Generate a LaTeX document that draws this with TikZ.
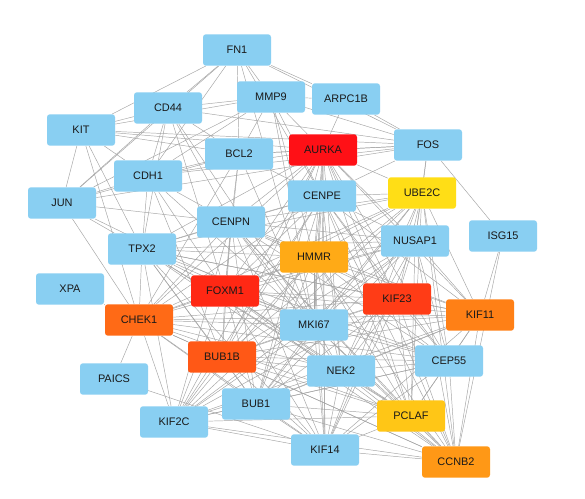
\documentclass[tikz,border=0pt]{standalone}
\usepackage{fontspec}
\setmainfont{Liberation Sans}
\usetikzlibrary{backgrounds}
\definecolor{nblue}{RGB}{137,207,242}
\definecolor{cAURKA}{RGB}{255,16,22}
\definecolor{cFOXM1}{RGB}{255,40,20}
\definecolor{cKIF23}{RGB}{255,60,22}
\definecolor{cBUB1B}{RGB}{255,88,22}
\definecolor{cCHEK1}{RGB}{255,106,22}
\definecolor{cKIF11}{RGB}{255,128,22}
\definecolor{cCCNB2}{RGB}{255,152,22}
\definecolor{cHMMR}{RGB}{255,170,22}
\definecolor{cPCLAF}{RGB}{255,198,22}
\definecolor{cUBE2C}{RGB}{255,222,22}
\definecolor{edgec}{RGB}{165,165,165}
\begin{document}
\begin{tikzpicture}[x=0.75pt,y=-0.75pt,
  gene/.style={fill=nblue,rounded corners=2.2pt,minimum width=51pt,minimum height=23.6pt,
    inner sep=0pt,font=\fontsize{8.2}{9.6}\selectfont,text=black!90},
  edge/.style={draw=edgec,line width=0.35pt}]
\useasboundingbox (0,0) rectangle (585,499);
\node[gene] (FN1) at (237,50) {FN1};
\node[gene] (MMP9) at (271,97) {MMP9};
\node[gene] (ARPC1B) at (346,99) {ARPC1B};
\node[gene] (CD44) at (168,108) {CD44};
\node[gene] (KIT) at (81,130) {KIT};
\node[gene] (BCL2) at (239,154) {BCL2};
\node[gene,fill=cAURKA] (AURKA) at (323,150) {AURKA};
\node[gene] (FOS) at (428,145) {FOS};
\node[gene] (CDH1) at (148,176) {CDH1};
\node[gene] (CENPE) at (322,196) {CENPE};
\node[gene,fill=cUBE2C] (UBE2C) at (422,193) {UBE2C};
\node[gene] (JUN) at (62,203) {JUN};
\node[gene] (CENPN) at (231,222) {CENPN};
\node[gene] (ISG15) at (503,236) {ISG15};
\node[gene] (NUSAP1) at (415,241) {NUSAP1};
\node[gene] (TPX2) at (142,249) {TPX2};
\node[gene,fill=cHMMR] (HMMR) at (314,257) {HMMR};
\node[gene] (XPA) at (70,289) {XPA};
\node[gene,fill=cFOXM1] (FOXM1) at (225,291) {FOXM1};
\node[gene,fill=cCHEK1] (CHEK1) at (139,320) {CHEK1};
\node[gene,fill=cKIF23] (KIF23) at (397,299) {KIF23};
\node[gene,fill=cKIF11] (KIF11) at (480,315) {KIF11};
\node[gene] (MKI67) at (314,325) {MKI67};
\node[gene,fill=cBUB1B] (BUB1B) at (222,357) {BUB1B};
\node[gene] (NEK2) at (341,371) {NEK2};
\node[gene] (CEP55) at (449,361) {CEP55};
\node[gene] (PAICS) at (114,379) {PAICS};
\node[gene] (BUB1) at (256,404) {BUB1};
\node[gene] (KIF2C) at (174,422) {KIF2C};
\node[gene,fill=cPCLAF] (PCLAF) at (411,416) {PCLAF};
\node[gene] (KIF14) at (325,450) {KIF14};
\node[gene,fill=cCCNB2] (CCNB2) at (456,462) {CCNB2};
\begin{scope}[on background layer]
\fill[white] (0,0) rectangle (585,499);
% cell-cycle cluster
\foreach \x [count=\i] in {AURKA,CENPE,UBE2C,CENPN,NUSAP1,TPX2,HMMR,FOXM1,CHEK1,KIF23,KIF11,MKI67,BUB1B,NEK2,CEP55,BUB1,KIF2C,PCLAF,KIF14,CCNB2}{
  \foreach \y [count=\j] in {AURKA,CENPE,UBE2C,CENPN,NUSAP1,TPX2,HMMR,FOXM1,CHEK1,KIF23,KIF11,MKI67,BUB1B,NEK2,CEP55,BUB1,KIF2C,PCLAF,KIF14,CCNB2}{
    \ifnum\j>\i \draw[edge] (\x) -- (\y); \fi
  }
}
% peripheral cluster
\foreach \x [count=\i] in {FN1,MMP9,CD44,KIT,JUN,FOS,CDH1,BCL2}{
  \foreach \y [count=\j] in {FN1,MMP9,CD44,KIT,JUN,FOS,CDH1,BCL2}{
    \ifnum\j>\i \draw[edge] (\x) -- (\y); \fi
  }
}
% cross links
\foreach \a/\b in {AURKA/MMP9,AURKA/BCL2,AURKA/FOS,AURKA/CDH1,AURKA/KIT,AURKA/ARPC1B,
  ARPC1B/FOS,ARPC1B/MMP9,FN1/ARPC1B,
  FOS/UBE2C,FOS/NUSAP1,FOS/CENPE,FOS/ISG15,ISG15/KIF11,ISG15/CCNB2,
  CDH1/TPX2,CDH1/CENPN,CDH1/FOXM1,CDH1/MKI67,CDH1/BUB1B,
  BCL2/CHEK1,BCL2/MKI67,BCL2/CENPE,BCL2/FOXM1,BCL2/CENPN,
  JUN/TPX2,JUN/CHEK1,JUN/MKI67,JUN/CENPN,
  KIT/TPX2,KIT/CHEK1,
  CD44/MKI67,CD44/CENPN,CD44/TPX2,CD44/FOXM1,
  MMP9/CENPE,MMP9/MKI67,MMP9/HMMR,FN1/MKI67,FN1/CENPE,
  XPA/CHEK1,PAICS/CHEK1,PAICS/KIF14}
  \draw[edge] (\a) -- (\b);
\end{scope}
\end{tikzpicture}
\end{document}
